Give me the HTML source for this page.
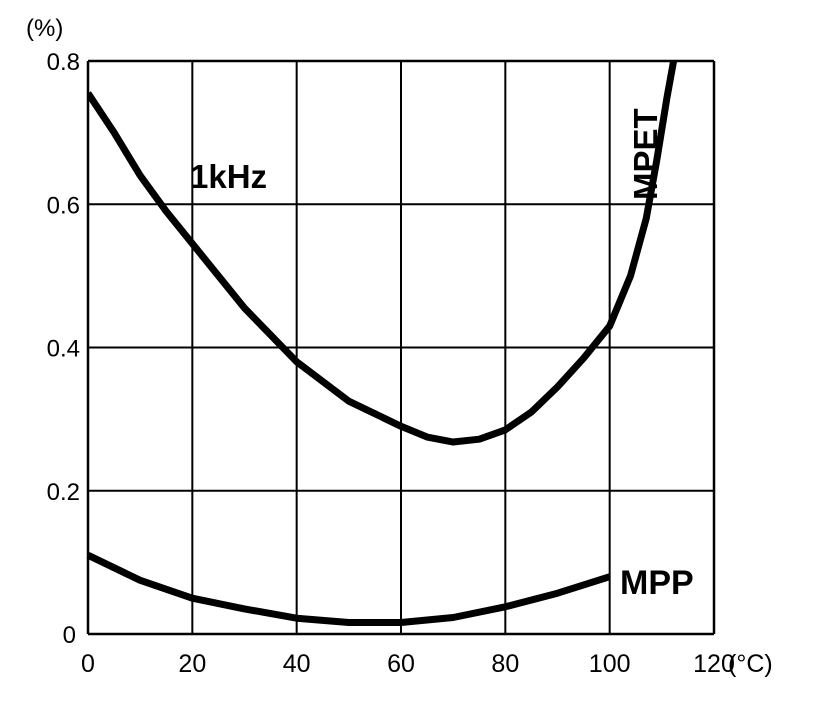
<!DOCTYPE html>
<html><head><meta charset="utf-8"><style>
html,body{margin:0;padding:0;background:#fff;}
svg{display:block;}
text{font-family:"Liberation Sans",sans-serif;}
</style></head><body>
<svg id="chart" width="829" height="701" xmlns="http://www.w3.org/2000/svg">
<g id="grid"></g>
<g id="series"></g>
<g id="labels"></g>
</svg>
<script>
const xTicks=[0,20,40,60,80,100,120];
const yTicks=[0,0.2,0.4,0.6,0.8];
const yTickLabels=["0","0.2","0.4","0.6","0.8"];
const mpetX=[0,5,10,15,20,30,40,50,60,65,70,75,80,85,90,95,100,104,107,109,111,112.5];
const mpetY=[0.755,0.70,0.64,0.59,0.545,0.455,0.38,0.325,0.29,0.275,0.268,0.272,0.285,0.31,0.345,0.385,0.43,0.5,0.58,0.66,0.75,0.81];
const mppX=[0,10,20,30,40,50,60,70,80,90,100];
const mppY=[0.11,0.075,0.05,0.035,0.022,0.016,0.016,0.023,0.038,0.057,0.08];
const L=88,R=714,T=61,B=634;
const sx=v=>L+(v/120)*(R-L);
const sy=v=>B-(v/0.8)*(B-T);
const NS="http://www.w3.org/2000/svg";
function mk(tag,attrs,parent){const e=document.createElementNS(NS,tag);for(const k in attrs)e.setAttribute(k,attrs[k]);parent.appendChild(e);return e;}
const grid=document.getElementById('grid'),series=document.getElementById('series'),labels=document.getElementById('labels');
xTicks.forEach(t=>{
  const l=mk('line',{x1:sx(t),x2:sx(t),y1:T,y2:B,stroke:'#000','stroke-width':(t===0||t===120)?2.5:2},grid);
  
  
  const tx=mk('text',{x:sx(t),y:672,'font-size':25,'text-anchor':'middle'},labels);
  tx.textContent=String(t);
  
  
});
yTicks.forEach((t,i)=>{
  const l=mk('line',{x1:L,x2:R,y1:sy(t),y2:sy(t),stroke:'#000','stroke-width':(i===0||i===yTicks.length-1)?2.5:2},grid);
  
  
  const tx=mk('text',{x:i===0?76:80,y:sy(t)+9,'font-size':24,'text-anchor':'end'},labels);
  tx.textContent=yTickLabels[i];
  
  
});
function path(xs,ys){return xs.map((x,i)=>(i?'L':'M')+sx(x).toFixed(1)+','+sy(ys[i]).toFixed(1)).join(' ');}
const cp=mk('clipPath',{id:'clip'},document.getElementById('chart'));
mk('rect',{x:L,y:T,width:R-L,height:B-T},cp);
const p1=mk('path',{d:path(mpetX,mpetY),fill:'none',stroke:'#000','stroke-width':7,'stroke-linejoin':'round','clip-path':'url(#clip)'},series);


const p2=mk('path',{d:path(mppX,mppY),fill:'none',stroke:'#000','stroke-width':7,'stroke-linejoin':'round'},series);


function txt(s,a,name){const e=mk('text',a,labels);e.textContent=s;return e;}
txt('(%)',{x:26,y:36,'font-size':24},'y-axis-unit');
txt('(°C)',{x:728,y:672,'font-size':25},'x-axis-unit');
txt('1kHz',{x:190,y:188,'font-size':33,'font-weight':'bold'},'frequency-label');
txt('MPP',{x:620,y:594,'font-size':34,'font-weight':'bold'},'mpp-label');
txt('MPET',{x:0,y:0,'font-size':33,'font-weight':'bold',transform:'translate(657,200) rotate(-90)'},'mpet-label');
</script>
</body></html>
